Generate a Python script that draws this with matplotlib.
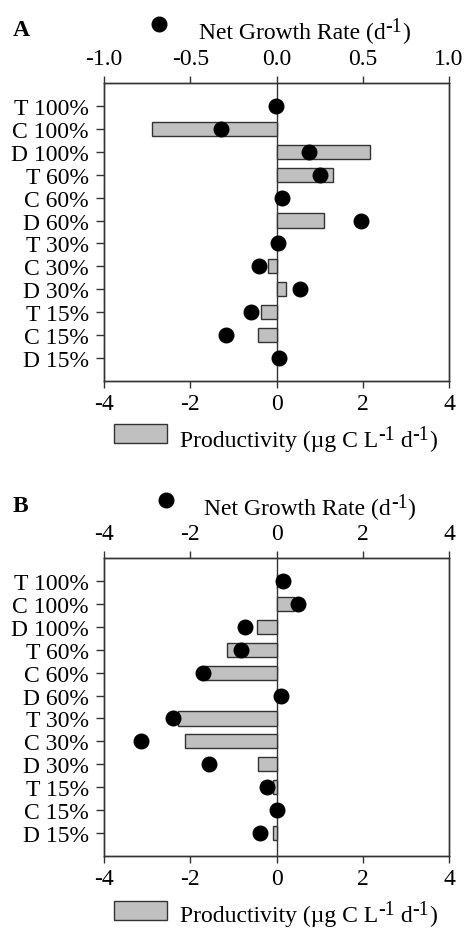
import numpy as np
import matplotlib
matplotlib.use('Agg')
import matplotlib.pyplot as plt
from matplotlib.patches import Rectangle
from matplotlib.lines import Line2D
from matplotlib.text import Annotation

plt.rcParams['font.family'] = ['Liberation Serif', 'DejaVu Serif']
plt.rcParams['axes.unicode_minus'] = False

# data
categories = ['T 100%', 'C 100%', 'D 100%', 'T 60%', 'C 60%', 'D 60%',
              'T 30%', 'C 30%', 'D 30%', 'T 15%', 'C 15%', 'D 15%']

prod_a = [0.0, -2.88, 2.16, 1.31, 0.0, 1.10, 0.0, -0.20, 0.22, -0.37, -0.42, 0.0]
growth_a = [-0.005, -0.32, 0.19, 0.25, 0.03, 0.49, 0.01, -0.10, 0.135, -0.147, -0.29, 0.015]

prod_b = [0.0, 0.40, -0.46, -1.14, -1.65, 0.0, -2.28, -2.13, -0.42, -0.08, 0.0, -0.08]
growth_b = [0.15, 0.49, -0.73, -0.82, -1.71, 0.10, -2.40, -3.14, -1.56, -0.23, 0.0, -0.38]

prod_ticks = [-4, -2, 0, 2, 4]
growth_ticks_a = [-1.0, -0.5, 0.0, 0.5, 1.0]
growth_ticks_b = [-4, -2, 0, 2, 4]

W, H = 465, 929
fig = plt.figure(figsize=(W / 100, H / 100), dpi=100)

FS = 17
edge = '#333333'
gray = '#c0c0c0'


def panel(top_px, prod, growth, gticks, glim, gfmt):
    ax = fig.add_axes([104 / W, 1 - (top_px + 298) / H, 345 / W, 298 / H])
    y = np.arange(len(categories))
    ax.barh(y, prod, height=0.62, color=gray, edgecolor=edge, linewidth=1.0, zorder=2)
    ax.axvline(0, color=edge, linewidth=1.0, zorder=1)
    ax.set_xlim(-4, 4)
    ax.set_ylim(len(categories), -1)
    ax.set_yticks(y)
    ax.set_yticklabels(categories)
    ax.set_xticks(prod_ticks)
    ax.set_xticklabels([str(t) for t in prod_ticks])
    ax.tick_params(axis='y', direction='out', length=6, width=1.0, pad=5, labelsize=FS, color=edge)
    ax.tick_params(axis='x', direction='out', length=5, width=1.0, pad=4, labelsize=FS, color=edge,
                   top=False)
    for s in ax.spines.values():
        s.set_linewidth(1.0)
        s.set_color(edge)

    ax2 = ax.twiny()
    ax2.scatter(growth, y, s=110, color='black', zorder=3)
    ax2.set_xlim(*glim)
    ax2.set_ylim(len(categories), -1)
    ax2.set_xticks(gticks)
    ax2.set_xticklabels([gfmt.format(t) for t in gticks])
    ax2.tick_params(axis='x', direction='out', length=5, width=1.0, pad=5, labelsize=FS, color=edge)
    for s in ax2.spines.values():
        s.set_linewidth(1.0)
        s.set_color(edge)
    return ax, ax2


panel(84, prod_a, growth_a, growth_ticks_a, (-1, 1), '{:.1f}')
panel(559, prod_b, growth_b, growth_ticks_b, (-4, 4), '{:d}')


def px(x, y):
    return x / W, 1 - y / H


def rich(x, y, parts):
    # parts: (text, is_superscript); pieces are chained left to right
    first = fig.text(*px(x, y), parts[0][0], fontsize=FS, va='bottom', ha='left')
    prev = first
    for s, is_sup in parts[1:]:
        a = Annotation(s, xy=(1, 0), xycoords=(prev, first),
                       xytext=(0, 5 if is_sup else 0), textcoords='offset points',
                       fontsize=FS * 0.85 if is_sup else FS, va='bottom', ha='left')
        fig.add_artist(a)
        prev = a


# panel letters
fig.text(*px(13, 30), 'A', fontsize=FS, fontweight='bold', va='center', ha='left')
fig.text(*px(13, 507), 'B', fontsize=FS, fontweight='bold', va='center', ha='left')

growth_label = [('Net Growth Rate (d', False), ('-1', True), (')', False)]
prod_label = [('Productivity (\u00b5g C L', False), ('-1', True), (' d', False),
              ('-1', True), (')', False)]

# net growth rate legend entries
for (dx, dy), (tx, ty) in [((159, 25), (199, 44)), ((166, 501), (204, 520))]:
    fig.add_artist(Line2D([dx / W], [1 - dy / H], marker='o', markersize=10.5,
                          color='black', linestyle='none', transform=fig.transFigure))
    rich(tx, ty, growth_label)

# productivity legend entries
for py, ty in [(425, 452), (902, 927)]:
    fig.add_artist(Rectangle((114 / W, 1 - (py + 19) / H), 53 / W, 19 / H,
                             facecolor=gray, edgecolor=edge, linewidth=1.0,
                             transform=fig.transFigure))
    rich(180, ty, prod_label)

fig.savefig('out.png', dpi=100)
